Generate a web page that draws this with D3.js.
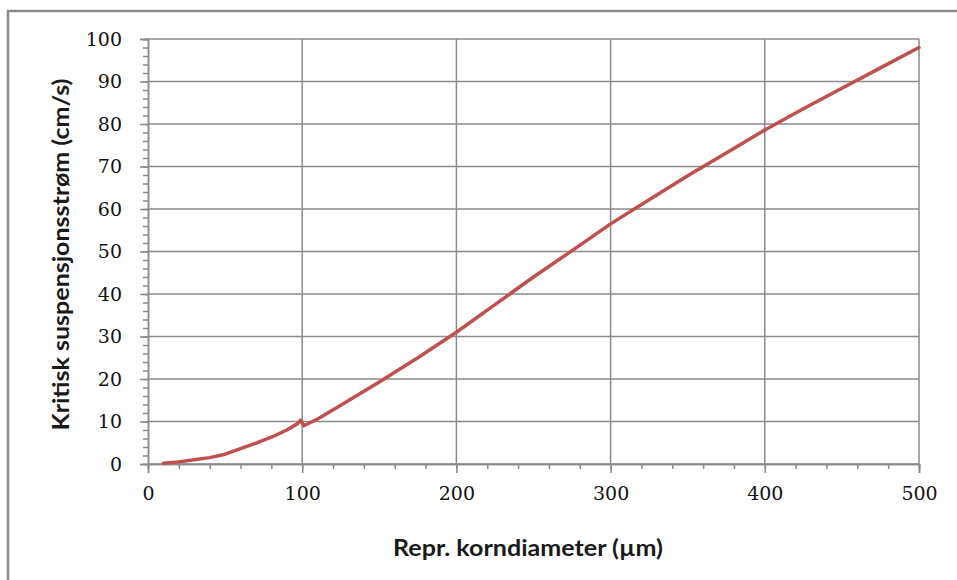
<!DOCTYPE html>
<html>
<head>
<meta charset="utf-8">
<script src="https://cdn.jsdelivr.net/npm/d3@7"></script>
<style>
  body { margin: 0; background: #fff; }
  svg { display: block; }
</style>
</head>
<body>
<div class="main"></div>
<script>
// Curve: grain diameter (µm) vs critical suspension velocity (cm/s)
const diameter = [10, 20, 30, 40, 50, 60, 70, 80, 90, 97, 99, 101, 110, 125, 150, 175, 200, 225, 250, 275, 300, 325, 350, 375, 400, 425, 450, 475, 500]
const velocity = [0.2, 0.5, 1.0, 1.5, 2.3, 3.6, 4.9, 6.3, 8.0, 9.5, 10.3, 9.0, 10.6, 13.8, 19.3, 25.0, 31.0, 37.5, 44.0, 50.2, 56.5, 62.2, 67.8, 73.2, 78.6, 83.6, 88.4, 93.2, 98.0]

const xTicks = [0, 100, 200, 300, 400, 500]
const yTicks = [0, 10, 20, 30, 40, 50, 60, 70, 80, 90, 100]

const xTitle = "Repr. korndiameter (µm)"
const yTitle = "Kritisk suspensjonsstrøm (cm/s)"

const width = 957
const height = 580
const margin = ({top: 39, right: 38, bottom: 116, left: 148})

const gridColor = "#8a8a8a"
const lineColor = "#c0504d"

const svg = d3.select(".main")
  .append("svg")
  .attr("width", width)
  .attr("height", height)

// outer chart frame
svg.append("rect")
  .attr("x", 8)
  .attr("y", 11)
  .attr("width", width + 10)
  .attr("height", height + 10)
  .attr("fill", "#fff")
  .attr("stroke", "#8c8c8c")
  .attr("stroke-width", 2.5)

const xScale = d3.scaleLinear()
  .domain([0, 500])
  .range([margin.left, width - margin.right])

const yScale = d3.scaleLinear()
  .domain([0, 100])
  .range([height - margin.bottom, margin.top])

// horizontal grid
svg.append("g")
  .selectAll("line")
  .data(yTicks)
  .join("line")
    .attr("x1", xScale(0))
    .attr("x2", xScale(500))
    .attr("y1", d => yScale(d))
    .attr("y2", d => yScale(d))
    .attr("stroke", gridColor)
    .attr("stroke-width", 1.5)

// vertical grid
svg.append("g")
  .selectAll("line")
  .data(xTicks.slice(1))
  .join("line")
    .attr("x1", d => xScale(d))
    .attr("x2", d => xScale(d))
    .attr("y1", yScale(0))
    .attr("y2", yScale(100))
    .attr("stroke", gridColor)
    .attr("stroke-width", 1.5)

// x axis: minor ticks every 20, majors every 100
const xAxisG = svg.append("g")
  .attr("transform", `translate(0, ${yScale(0)})`)

xAxisG.append("g")
  .call(d3.axisBottom(xScale).tickValues(d3.range(0, 501, 20)).tickSize(5).tickFormat(""))
xAxisG.append("g")
  .call(d3.axisBottom(xScale).tickValues(xTicks).tickSize(9).tickPadding(14))

// y axis
const yAxisG = svg.append("g")
  .attr("transform", `translate(${xScale(0)}, 0)`)

yAxisG.append("g")
  .call(d3.axisLeft(yScale).tickValues(d3.range(0, 101, 2)).tickSize(5).tickFormat(""))
yAxisG.append("g")
  .call(d3.axisLeft(yScale).tickValues(yTicks).tickSize(8).tickPadding(18))

svg.selectAll(".domain")
  .attr("stroke", gridColor)
  .attr("stroke-width", 1.5)
svg.selectAll(".tick line")
  .attr("stroke", gridColor)
  .attr("stroke-width", 1.5)
svg.selectAll(".tick text")
  .attr("font-family", "DejaVu Serif")
  .attr("font-size", 19)
  .attr("fill", "#111")

// the curve
const data = diameter.map((d, i) => ({d: d, v: velocity[i]}))

svg.append("path")
  .datum(data)
  .attr("fill", "none")
  .attr("stroke", lineColor)
  .attr("stroke-width", 3.5)
  .attr("stroke-linejoin", "round")
  .attr("stroke-linecap", "round")
  .attr("d", d3.line()
    .x(p => xScale(p.d))
    .y(p => yScale(p.v)))

// axis titles
svg.append("text")
  .text(xTitle)
  .attr("x", 528)
  .attr("y", 556)
  .attr("text-anchor", "middle")
  .attr("font-family", "Lato")
  .attr("font-weight", "bold")
  .attr("font-size", 22)
  .attr("textLength", 270)
  .attr("lengthAdjust", "spacingAndGlyphs")
  .attr("fill", "#1a1a1a")

svg.append("text")
  .text(yTitle)
  .attr("transform", `translate(69, ${(yScale(0) + yScale(100)) / 2 + 3}) rotate(-90)`)
  .attr("text-anchor", "middle")
  .attr("font-family", "Lato")
  .attr("font-weight", "bold")
  .attr("font-size", 22)
  .attr("textLength", 352)
  .attr("lengthAdjust", "spacingAndGlyphs")
  .attr("fill", "#1a1a1a")
</script>
</body>
</html>
